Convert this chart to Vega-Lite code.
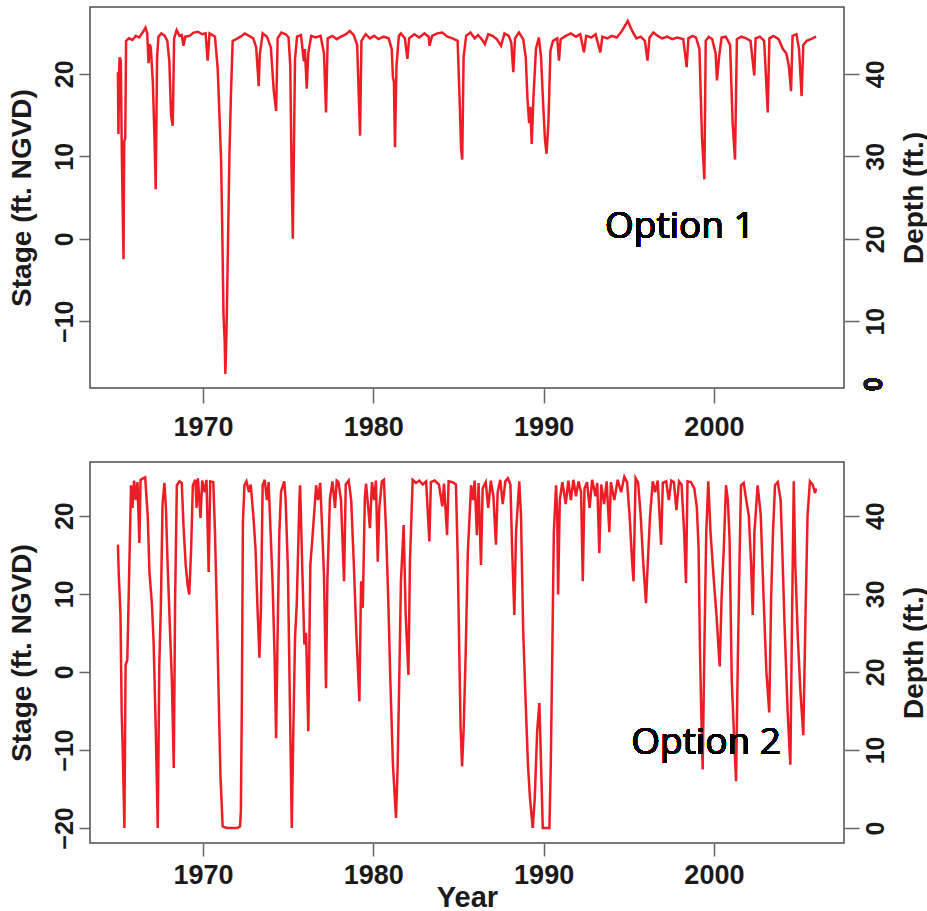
{
  "$schema": "https://vega.github.io/schema/vega-lite/v6.json",
  "background": "white",
  "padding": {"left": 7, "top": 6, "right": 0, "bottom": 0},
  "spacing": 20,
  "config": {
    "font": "Liberation Sans",
    "view": {"stroke": "#4d4d4d", "strokeWidth": 1.5},
    "axis": {"domain": false, "grid": false, "labelFont": "Liberation Sans", "labelFontWeight": "bold", "labelColor": "#1a1a1a", "titleFont": "Liberation Sans", "titleFontWeight": "bold", "titleColor": "#1a1a1a", "tickColor": "#666666", "tickWidth": 1.5, "labelOverlap": false, "labelFlush": false},
    "axisX": {"labelFontSize": 27, "tickSize": 15, "labelPadding": 11, "titleFontSize": 29, "titlePadding": -5},
    "axisLeft": {"labelFontSize": 25, "tickSize": 11, "labelAngle": -90, "labelPadding": 2, "titleFontSize": 28, "titlePadding": 16},
    "axisRight": {"labelFontSize": 25, "tickSize": 15, "labelAngle": -90, "labelPadding": 4, "titleFontSize": 28, "titlePadding": 12, "titleAngle": -90, "titleBaseline": "top"}
  },
  "datasets": {
    "opt1": [
      {"year":1965.00,"stage":20.2},{"year":1965.03,"stage":12.7},{"year":1965.07,"stage":20.5},{"year":1965.10,"stage":22.0},{"year":1965.17,"stage":21.6},{"year":1965.22,"stage":12.0},{"year":1965.27,"stage":4.8},{"year":1965.33,"stage":-2.5},{"year":1965.37,"stage":11.8},{"year":1965.43,"stage":12.2},{"year":1965.48,"stage":24.0},{"year":1965.65,"stage":24.3},{"year":1965.85,"stage":24.1},{"year":1966.05,"stage":24.6},{"year":1966.25,"stage":24.4},{"year":1966.45,"stage":25.0},{"year":1966.62,"stage":25.6},{"year":1966.72,"stage":24.9},{"year":1966.80,"stage":21.3},{"year":1966.86,"stage":23.6},{"year":1966.93,"stage":23.2},{"year":1967.05,"stage":19.0},{"year":1967.15,"stage":12.0},{"year":1967.22,"stage":6.0},{"year":1967.30,"stage":22.0},{"year":1967.38,"stage":24.5},{"year":1967.55,"stage":24.9},{"year":1967.75,"stage":24.6},{"year":1967.90,"stage":24.0},{"year":1968.02,"stage":21.5},{"year":1968.12,"stage":15.0},{"year":1968.22,"stage":13.7},{"year":1968.30,"stage":24.3},{"year":1968.45,"stage":25.3},{"year":1968.62,"stage":24.6},{"year":1968.75,"stage":24.7},{"year":1968.85,"stage":23.4},{"year":1968.95,"stage":24.5},{"year":1969.20,"stage":24.6},{"year":1969.45,"stage":25.0},{"year":1969.70,"stage":25.1},{"year":1969.95,"stage":24.8},{"year":1970.15,"stage":24.9},{"year":1970.27,"stage":21.6},{"year":1970.38,"stage":24.9},{"year":1970.55,"stage":24.7},{"year":1970.70,"stage":24.5},{"year":1970.86,"stage":20.6},{"year":1970.98,"stage":14.0},{"year":1971.06,"stage":9.4},{"year":1971.12,"stage":2.1},{"year":1971.20,"stage":-9.2},{"year":1971.27,"stage":-12.5},{"year":1971.31,"stage":-16.4},{"year":1971.38,"stage":-11.0},{"year":1971.45,"stage":-2.3},{"year":1971.55,"stage":10.3},{"year":1971.64,"stage":17.7},{"year":1971.74,"stage":24.0},
      {"year":1971.95,"stage":24.2},{"year":1972.20,"stage":24.5},{"year":1972.45,"stage":24.9},{"year":1972.70,"stage":24.6},{"year":1972.95,"stage":24.3},{"year":1973.12,"stage":23.2},{"year":1973.27,"stage":18.5},{"year":1973.33,"stage":22.3},{"year":1973.50,"stage":24.9},{"year":1973.75,"stage":24.5},{"year":1973.98,"stage":23.2},{"year":1974.15,"stage":18.0},{"year":1974.29,"stage":15.5},{"year":1974.38,"stage":24.3},{"year":1974.60,"stage":25.0},{"year":1974.85,"stage":24.8},{"year":1975.02,"stage":24.4},{"year":1975.12,"stage":21.0},{"year":1975.20,"stage":8.0},{"year":1975.27,"stage":0.0},{"year":1975.33,"stage":9.8},{"year":1975.40,"stage":21.8},{"year":1975.52,"stage":24.5},{"year":1975.75,"stage":24.7},{"year":1975.92,"stage":21.5},{"year":1975.98,"stage":23.0},{"year":1976.09,"stage":18.2},{"year":1976.18,"stage":22.5},{"year":1976.35,"stage":24.6},{"year":1976.60,"stage":24.4},{"year":1976.90,"stage":24.6},{"year":1977.10,"stage":22.5},{"year":1977.22,"stage":15.3},{"year":1977.32,"stage":24.3},{"year":1977.60,"stage":24.6},{"year":1977.85,"stage":24.2},{"year":1978.10,"stage":24.5},{"year":1978.40,"stage":24.8},{"year":1978.62,"stage":25.2},{"year":1978.85,"stage":24.7},{"year":1979.05,"stage":23.5},{"year":1979.15,"stage":17.0},{"year":1979.22,"stage":12.5},{"year":1979.30,"stage":24.0},{"year":1979.55,"stage":24.8},{"year":1979.80,"stage":24.3},{"year":1980.05,"stage":24.6},{"year":1980.30,"stage":24.2},{"year":1980.60,"stage":24.5},{"year":1980.90,"stage":24.3},{"year":1981.08,"stage":23.0},{"year":1981.15,"stage":19.6},{"year":1981.21,"stage":19.0},{"year":1981.27,"stage":11.1},{"year":1981.36,"stage":21.0},{"year":1981.50,"stage":24.6},{"year":1981.62,"stage":24.9},{"year":1981.85,"stage":24.3},{"year":1982.00,"stage":21.8},{"year":1982.10,"stage":24.3},{"year":1982.40,"stage":24.8},{"year":1982.70,"stage":24.4},{"year":1983.00,"stage":24.9},{"year":1983.25,"stage":24.5},{"year":1983.30,"stage":23.4},{"year":1983.45,"stage":24.6},{"year":1983.75,"stage":24.9},{"year":1984.05,"stage":25.0},{"year":1984.35,"stage":24.5},{"year":1984.65,"stage":24.3},{"year":1984.95,"stage":24.0},{"year":1985.08,"stage":16.0},{"year":1985.15,"stage":11.0},{"year":1985.22,"stage":9.6},{"year":1985.30,"stage":22.0},{"year":1985.45,"stage":24.6},{"year":1985.70,"stage":25.0},{"year":1985.95,"stage":24.3},{"year":1986.15,"stage":24.7},{"year":1986.40,"stage":24.1},{"year":1986.55,"stage":23.6},{"year":1986.75,"stage":24.8},{"year":1987.00,"stage":24.6},{"year":1987.25,"stage":24.2},{"year":1987.50,"stage":23.4},{"year":1987.70,"stage":24.9},{"year":1987.95,"stage":24.6},{"year":1988.10,"stage":23.8},{"year":1988.22,"stage":20.2},{"year":1988.32,"stage":24.3},{"year":1988.55,"stage":25.0},{"year":1988.80,"stage":24.2},{"year":1988.95,"stage":22.0},{"year":1989.05,"stage":17.0},{"year":1989.15,"stage":14.0},{"year":1989.22,"stage":16.0},{"year":1989.30,"stage":11.5},{"year":1989.40,"stage":17.0},{"year":1989.55,"stage":23.0},{"year":1989.72,"stage":24.4},{"year":1989.85,"stage":22.0},{"year":1989.98,"stage":16.0},{"year":1990.08,"stage":12.0},{"year":1990.17,"stage":10.3},{"year":1990.28,"stage":14.0},{"year":1990.40,"stage":22.8},{"year":1990.55,"stage":24.0},{"year":1990.80,"stage":24.3},{"year":1990.90,"stage":21.6},{"year":1991.00,"stage":24.2},{"year":1991.30,"stage":24.6},{"year":1991.60,"stage":24.9},{"year":1991.90,"stage":24.5},{"year":1992.15,"stage":24.8},{"year":1992.37,"stage":22.6},{"year":1992.50,"stage":24.6},{"year":1992.80,"stage":24.4},{"year":1993.05,"stage":24.8},{"year":1993.33,"stage":22.6},{"year":1993.45,"stage":24.5},{"year":1993.75,"stage":24.3},{"year":1994.00,"stage":24.6},{"year":1994.30,"stage":24.4},{"year":1994.60,"stage":25.2},{"year":1994.94,"stage":26.4},{"year":1995.20,"stage":25.2},{"year":1995.45,"stage":24.3},{"year":1995.70,"stage":24.5},{"year":1995.95,"stage":24.0},{"year":1996.10,"stage":21.6},{"year":1996.22,"stage":24.4},{"year":1996.45,"stage":25.0},{"year":1996.70,"stage":24.6},{"year":1996.95,"stage":24.3},{"year":1997.25,"stage":24.5},{"year":1997.55,"stage":24.2},{"year":1997.85,"stage":24.4},{"year":1998.20,"stage":24.2},{"year":1998.40,"stage":20.8},{"year":1998.50,"stage":24.3},{"year":1998.75,"stage":24.6},{"year":1998.95,"stage":24.4},{"year":1999.15,"stage":23.0},{"year":1999.30,"stage":12.3},{"year":1999.44,"stage":7.2},{"year":1999.52,"stage":24.0},{"year":1999.70,"stage":24.5},{"year":1999.90,"stage":24.2},{"year":2000.10,"stage":22.5},{"year":2000.18,"stage":19.2},{"year":2000.30,"stage":22.0},{"year":2000.45,"stage":24.4},{"year":2000.70,"stage":24.5},{"year":2000.95,"stage":23.5},{"year":2001.10,"stage":14.0},{"year":2001.24,"stage":9.6},{"year":2001.35,"stage":24.2},{"year":2001.60,"stage":24.5},{"year":2001.90,"stage":24.3},{"year":2002.15,"stage":24.0},{"year":2002.37,"stage":19.8},{"year":2002.45,"stage":24.3},{"year":2002.70,"stage":24.5},{"year":2002.95,"stage":24.0},{"year":2003.05,"stage":20.0},{"year":2003.16,"stage":15.3},{"year":2003.26,"stage":24.3},{"year":2003.50,"stage":24.6},{"year":2003.80,"stage":24.2},{"year":2004.05,"stage":23.0},{"year":2004.25,"stage":22.5},{"year":2004.40,"stage":21.0},{"year":2004.53,"stage":17.9},{"year":2004.62,"stage":24.6},{"year":2004.85,"stage":24.8},{"year":2005.00,"stage":23.0},{"year":2005.15,"stage":17.3},{"year":2005.25,"stage":23.5},{"year":2005.45,"stage":24.0},{"year":2005.70,"stage":24.2},{"year":2006.00,"stage":24.5}
    ],
    "opt2": [
      {"year":1965.00,"stage":16.3},{"year":1965.05,"stage":12.4},{"year":1965.10,"stage":10.0},{"year":1965.15,"stage":7.3},{"year":1965.22,"stage":-5.1},{"year":1965.28,"stage":-9.8},{"year":1965.38,"stage":-20.0},{"year":1965.45,"stage":0.9},{"year":1965.55,"stage":1.5},{"year":1965.60,"stage":6.4},{"year":1965.77,"stage":23.9},{"year":1965.85,"stage":21.0},{"year":1965.95,"stage":24.5},{"year":1966.05,"stage":22.0},{"year":1966.15,"stage":24.3},{"year":1966.26,"stage":16.5},{"year":1966.33,"stage":24.6},{"year":1966.50,"stage":24.8},{"year":1966.60,"stage":24.9},{"year":1966.75,"stage":20.0},{"year":1966.85,"stage":12.8},{"year":1967.00,"stage":8.6},{"year":1967.10,"stage":3.5},{"year":1967.22,"stage":-7.2},{"year":1967.34,"stage":-20.0},{"year":1967.43,"stage":0.9},{"year":1967.52,"stage":8.2},{"year":1967.62,"stage":21.4},{"year":1967.73,"stage":24.2},{"year":1967.82,"stage":21.0},{"year":1967.92,"stage":13.7},{"year":1968.06,"stage":5.2},{"year":1968.17,"stage":-1.2},{"year":1968.28,"stage":-12.3},{"year":1968.36,"stage":9.4},{"year":1968.46,"stage":23.9},{"year":1968.62,"stage":24.4},{"year":1968.75,"stage":24.2},{"year":1968.85,"stage":18.8},{"year":1968.98,"stage":13.7},{"year":1969.10,"stage":11.0},{"year":1969.19,"stage":9.9},{"year":1969.30,"stage":15.8},{"year":1969.40,"stage":23.9},{"year":1969.55,"stage":24.6},{"year":1969.62,"stage":21.0},{"year":1969.70,"stage":24.8},{"year":1969.85,"stage":19.7},{"year":1969.95,"stage":24.5},{"year":1970.10,"stage":23.0},{"year":1970.20,"stage":24.6},{"year":1970.33,"stage":12.8},{"year":1970.42,"stage":24.4},{"year":1970.60,"stage":24.3},{"year":1970.70,"stage":17.9},{"year":1970.82,"stage":6.9},{"year":1970.92,"stage":-3.4},{"year":1971.02,"stage":-13.2},{"year":1971.15,"stage":-19.8},{"year":1971.40,"stage":-20.0},{"year":1971.70,"stage":-20.0},{"year":1972.00,"stage":-20.0},{"year":1972.17,"stage":-19.8},{"year":1972.22,"stage":-17.9},{"year":1972.28,"stage":-3.4},{"year":1972.34,"stage":19.2},{"year":1972.43,"stage":23.9},{"year":1972.55,"stage":24.4},{"year":1972.70,"stage":23.0},{"year":1972.80,"stage":24.0},{"year":1972.95,"stage":20.1},{"year":1973.08,"stage":15.8},{"year":1973.20,"stage":8.0},{"year":1973.31,"stage":1.8},{"year":1973.40,"stage":8.2},{"year":1973.50,"stage":23.9},{"year":1973.62,"stage":24.6},{"year":1973.75,"stage":22.0},{"year":1973.85,"stage":24.3},{"year":1973.95,"stage":18.8},{"year":1974.08,"stage":11.6},{"year":1974.20,"stage":2.0},{"year":1974.29,"stage":-8.5},{"year":1974.38,"stage":5.2},{"year":1974.48,"stage":17.9},{"year":1974.58,"stage":23.1},{"year":1974.77,"stage":24.4},{"year":1974.85,"stage":22.0},{"year":1974.98,"stage":13.3},{"year":1975.08,"stage":-1.2},{"year":1975.21,"stage":-20.0},{"year":1975.30,"stage":-7.6},{"year":1975.40,"stage":4.3},{"year":1975.50,"stage":8.6},{"year":1975.66,"stage":22.2},{"year":1975.70,"stage":23.9},{"year":1975.82,"stage":13.7},{"year":1975.95,"stage":3.5},{"year":1976.05,"stage":5.0},{"year":1976.18,"stage":-7.6},{"year":1976.30,"stage":13.7},{"year":1976.42,"stage":17.1},{"year":1976.64,"stage":23.9},{"year":1976.75,"stage":22.0},{"year":1976.88,"stage":24.2},{"year":1977.00,"stage":18.0},{"year":1977.10,"stage":12.4},{"year":1977.22,"stage":-2.1},{"year":1977.30,"stage":11.6},{"year":1977.45,"stage":22.2},{"year":1977.60,"stage":24.4},{"year":1977.75,"stage":21.0},{"year":1977.85,"stage":24.5},{"year":1977.95,"stage":24.3},{"year":1978.10,"stage":22.0},{"year":1978.28,"stage":11.6},{"year":1978.38,"stage":24.0},{"year":1978.55,"stage":24.5},{"year":1978.70,"stage":22.0},{"year":1978.85,"stage":14.0},{"year":1979.00,"stage":5.0},{"year":1979.18,"stage":-3.8},{"year":1979.28,"stage":11.6},{"year":1979.38,"stage":8.2},{"year":1979.50,"stage":22.2},{"year":1979.57,"stage":24.1},{"year":1979.70,"stage":21.0},{"year":1979.80,"stage":18.4},{"year":1979.92,"stage":24.3},{"year":1980.05,"stage":22.0},{"year":1980.15,"stage":24.5},{"year":1980.26,"stage":14.1},{"year":1980.35,"stage":21.0},{"year":1980.50,"stage":24.4},{"year":1980.62,"stage":24.6},{"year":1980.75,"stage":17.9},{"year":1980.88,"stage":9.0},{"year":1981.00,"stage":-1.2},{"year":1981.15,"stage":-11.9},{"year":1981.33,"stage":-18.7},{"year":1981.42,"stage":-12.7},{"year":1981.52,"stage":-1.2},{"year":1981.62,"stage":11.6},{"year":1981.78,"stage":18.8},{"year":1981.90,"stage":7.3},{"year":1982.06,"stage":-0.4},{"year":1982.15,"stage":14.1},{"year":1982.31,"stage":24.6},{"year":1982.50,"stage":24.2},{"year":1982.70,"stage":24.5},{"year":1982.90,"stage":24.0},{"year":1983.10,"stage":24.4},{"year":1983.29,"stage":16.7},{"year":1983.38,"stage":24.3},{"year":1983.60,"stage":24.5},{"year":1983.85,"stage":24.0},{"year":1984.05,"stage":21.2},{"year":1984.15,"stage":24.1},{"year":1984.33,"stage":17.5},{"year":1984.42,"stage":24.4},{"year":1984.65,"stage":24.3},{"year":1984.85,"stage":24.0},{"year":1984.95,"stage":15.0},{"year":1985.05,"stage":2.2},{"year":1985.12,"stage":-6.8},{"year":1985.21,"stage":-12.1},{"year":1985.30,"stage":-7.6},{"year":1985.42,"stage":2.2},{"year":1985.55,"stage":15.4},{"year":1985.74,"stage":23.9},{"year":1985.85,"stage":22.0},{"year":1985.95,"stage":24.5},{"year":1986.08,"stage":17.5},{"year":1986.18,"stage":24.2},{"year":1986.32,"stage":13.7},{"year":1986.42,"stage":23.5},{"year":1986.60,"stage":24.3},{"year":1986.75,"stage":21.0},{"year":1986.90,"stage":24.5},{"year":1987.05,"stage":22.5},{"year":1987.20,"stage":16.3},{"year":1987.30,"stage":23.0},{"year":1987.45,"stage":24.6},{"year":1987.60,"stage":21.5},{"year":1987.75,"stage":24.4},{"year":1987.90,"stage":24.8},{"year":1988.05,"stage":24.0},{"year":1988.15,"stage":15.8},{"year":1988.28,"stage":7.3},{"year":1988.38,"stage":17.9},{"year":1988.57,"stage":24.4},{"year":1988.67,"stage":20.1},{"year":1988.80,"stage":5.2},{"year":1988.95,"stage":-4.2},{"year":1989.08,"stage":-11.9},{"year":1989.20,"stage":-16.2},{"year":1989.36,"stage":-20.0},{"year":1989.48,"stage":-16.2},{"year":1989.62,"stage":-7.6},{"year":1989.75,"stage":-4.0},{"year":1989.85,"stage":-11.9},{"year":1989.95,"stage":-20.0},{"year":1990.15,"stage":-20.0},{"year":1990.34,"stage":-20.0},{"year":1990.42,"stage":-11.9},{"year":1990.50,"stage":0.9},{"year":1990.60,"stage":17.9},{"year":1990.73,"stage":23.9},{"year":1990.80,"stage":20.0},{"year":1990.85,"stage":9.9},{"year":1990.95,"stage":22.0},{"year":1991.10,"stage":24.3},{"year":1991.30,"stage":21.5},{"year":1991.45,"stage":24.5},{"year":1991.60,"stage":22.0},{"year":1991.75,"stage":24.6},{"year":1991.90,"stage":22.5},{"year":1992.05,"stage":24.4},{"year":1992.20,"stage":23.0},{"year":1992.30,"stage":11.6},{"year":1992.40,"stage":23.5},{"year":1992.55,"stage":24.3},{"year":1992.70,"stage":21.0},{"year":1992.85,"stage":24.6},{"year":1993.05,"stage":22.5},{"year":1993.15,"stage":24.2},{"year":1993.27,"stage":15.2},{"year":1993.38,"stage":24.0},{"year":1993.55,"stage":21.5},{"year":1993.70,"stage":24.4},{"year":1993.86,"stage":17.9},{"year":1993.95,"stage":24.3},{"year":1994.15,"stage":22.0},{"year":1994.35,"stage":24.6},{"year":1994.55,"stage":23.0},{"year":1994.74,"stage":25.0},{"year":1994.90,"stage":24.3},{"year":1995.05,"stage":20.0},{"year":1995.20,"stage":14.0},{"year":1995.28,"stage":11.6},{"year":1995.40,"stage":24.8},{"year":1995.55,"stage":24.2},{"year":1995.70,"stage":20.0},{"year":1995.85,"stage":14.0},{"year":1996.01,"stage":8.8},{"year":1996.12,"stage":14.1},{"year":1996.25,"stage":20.0},{"year":1996.41,"stage":24.4},{"year":1996.55,"stage":23.0},{"year":1996.70,"stage":24.5},{"year":1996.90,"stage":16.3},{"year":1997.00,"stage":24.2},{"year":1997.20,"stage":24.4},{"year":1997.35,"stage":22.0},{"year":1997.50,"stage":24.5},{"year":1997.65,"stage":24.3},{"year":1997.80,"stage":20.7},{"year":1997.95,"stage":24.4},{"year":1998.10,"stage":24.0},{"year":1998.25,"stage":18.0},{"year":1998.36,"stage":11.4},{"year":1998.45,"stage":24.4},{"year":1998.65,"stage":24.3},{"year":1998.85,"stage":23.5},{"year":1999.00,"stage":21.0},{"year":1999.10,"stage":15.8},{"year":1999.18,"stage":3.0},{"year":1999.26,"stage":-5.5},{"year":1999.34,"stage":-12.5},{"year":1999.44,"stage":3.0},{"year":1999.55,"stage":17.9},{"year":1999.67,"stage":24.4},{"year":1999.80,"stage":17.9},{"year":2000.00,"stage":11.6},{"year":2000.15,"stage":7.3},{"year":2000.34,"stage":0.7},{"year":2000.45,"stage":9.4},{"year":2000.58,"stage":15.8},{"year":2000.71,"stage":23.9},{"year":2000.82,"stage":22.0},{"year":2000.92,"stage":17.0},{"year":2001.05,"stage":-1.2},{"year":2001.17,"stage":-7.6},{"year":2001.30,"stage":-14.0},{"year":2001.40,"stage":0.9},{"year":2001.50,"stage":13.7},{"year":2001.59,"stage":23.9},{"year":2001.75,"stage":24.2},{"year":2001.90,"stage":22.0},{"year":2002.05,"stage":20.0},{"year":2002.18,"stage":14.0},{"year":2002.28,"stage":7.3},{"year":2002.38,"stage":17.9},{"year":2002.57,"stage":23.9},{"year":2002.75,"stage":20.1},{"year":2002.92,"stage":9.4},{"year":2003.08,"stage":0.1},{"year":2003.25,"stage":-5.2},{"year":2003.36,"stage":9.4},{"year":2003.47,"stage":17.9},{"year":2003.59,"stage":23.9},{"year":2003.75,"stage":24.3},{"year":2003.92,"stage":22.0},{"year":2004.00,"stage":16.7},{"year":2004.15,"stage":6.0},{"year":2004.33,"stage":-5.1},{"year":2004.49,"stage":-11.9},{"year":2004.58,"stage":5.2},{"year":2004.69,"stage":24.4},{"year":2004.78,"stage":13.7},{"year":2004.93,"stage":4.3},{"year":2005.08,"stage":-2.5},{"year":2005.25,"stage":-8.1},{"year":2005.38,"stage":7.3},{"year":2005.50,"stage":20.1},{"year":2005.64,"stage":24.4},{"year":2005.80,"stage":24.0},{"year":2005.94,"stage":22.9},{"year":2006.00,"stage":23.5}
    ]
  },
  "vconcat": [
    {
      "width": 754,
      "height": 381,
      "data": {"name": "opt1"},
      "layer": [
        {
          "layer": [
            {
              "mark": {"type": "line", "color": "#ee1c24", "strokeWidth": 2.5},
              "encoding": {
                "x": {"field": "year", "type": "quantitative", "scale": {"domain": [1963.36, 2007.64], "nice": false, "zero": false}, "axis": {"values": [1970, 1980, 1990, 2000], "format": "d", "title": null}},
                "y": {"field": "stage", "type": "quantitative", "scale": {"domain": [-18.1, 28.1], "nice": false, "zero": false}, "axis": {"orient": "left", "values": [-10, 0, 10, 20], "title": "Stage (ft. NGVD)"}}
              }
            },
            {
              "mark": {"type": "text", "font": "Open Sans", "fontSize": 37, "color": "#000000", "align": "center", "baseline": "middle"},
              "encoding": {
                "x": {"datum": 1998.0, "type": "quantitative", "scale": {"domain": [1963.36, 2007.64], "nice": false, "zero": false}},
                "y": {"datum": 1.4, "type": "quantitative", "scale": {"domain": [-18.1, 28.1], "nice": false, "zero": false}},
                "text": {"value": "Option 1"}
              }
            },
            {
              "mark": {"type": "text", "font": "Liberation Sans", "fontWeight": "bold", "fontSize": 25, "color": "#1a1a1a", "align": "center", "baseline": "middle", "angle": 270},
              "encoding": {
                "x": {"datum": 2009.4, "type": "quantitative", "scale": {"domain": [1963.36, 2007.64], "nice": false, "zero": false}},
                "y": {"datum": -17.65, "type": "quantitative", "scale": {"domain": [-18.1, 28.1], "nice": false, "zero": false}},
                "text": {"value": "0"}
              }
            }
          ]
        },
        {
          "mark": {"type": "line", "opacity": 0},
          "encoding": {
            "x": {"field": "year", "type": "quantitative", "scale": {"domain": [1963.36, 2007.64], "nice": false, "zero": false}},
            "y": {"field": "stage", "type": "quantitative", "scale": {"domain": [-18.1, 28.1], "nice": false, "zero": false}, "axis": {"orient": "right", "values": [-10, 0, 10, 20], "labelExpr": "datum.value + 20", "title": "Depth (ft.)"}}
          }
        }
      ],
      "resolve": {"scale": {"y": "independent"}}
    },
    {
      "width": 754,
      "height": 381,
      "data": {"name": "opt2"},
      "layer": [
        {
          "layer": [
            {
              "mark": {"type": "line", "color": "#ee1c24", "strokeWidth": 2.5},
              "encoding": {
                "x": {"field": "year", "type": "quantitative", "scale": {"domain": [1963.36, 2007.64], "nice": false, "zero": false}, "axis": {"values": [1970, 1980, 1990, 2000], "format": "d", "title": "Year", "tickSize": 13, "labelPadding": 6}},
                "y": {"field": "stage", "type": "quantitative", "scale": {"domain": [-21.92, 26.88], "nice": false, "zero": false}, "axis": {"orient": "left", "values": [-20, -10, 0, 10, 20], "title": "Stage (ft. NGVD)"}}
              }
            },
            {
              "mark": {"type": "text", "font": "Open Sans", "fontSize": 37, "color": "#000000", "align": "center", "baseline": "middle"},
              "encoding": {
                "x": {"datum": 1999.54, "type": "quantitative", "scale": {"domain": [1963.36, 2007.64], "nice": false, "zero": false}},
                "y": {"datum": -9.1, "type": "quantitative", "scale": {"domain": [-21.92, 26.88], "nice": false, "zero": false}},
                "text": {"value": "Option 2"}
              }
            }
          ]
        },
        {
          "mark": {"type": "line", "opacity": 0},
          "encoding": {
            "x": {"field": "year", "type": "quantitative", "scale": {"domain": [1963.36, 2007.64], "nice": false, "zero": false}},
            "y": {"field": "stage", "type": "quantitative", "scale": {"domain": [-21.92, 26.88], "nice": false, "zero": false}, "axis": {"orient": "right", "values": [-20, -10, 0, 10, 20], "labelExpr": "datum.value + 20", "title": "Depth (ft.)"}}
          }
        }
      ],
      "resolve": {"scale": {"y": "independent"}}
    }
  ]
}
